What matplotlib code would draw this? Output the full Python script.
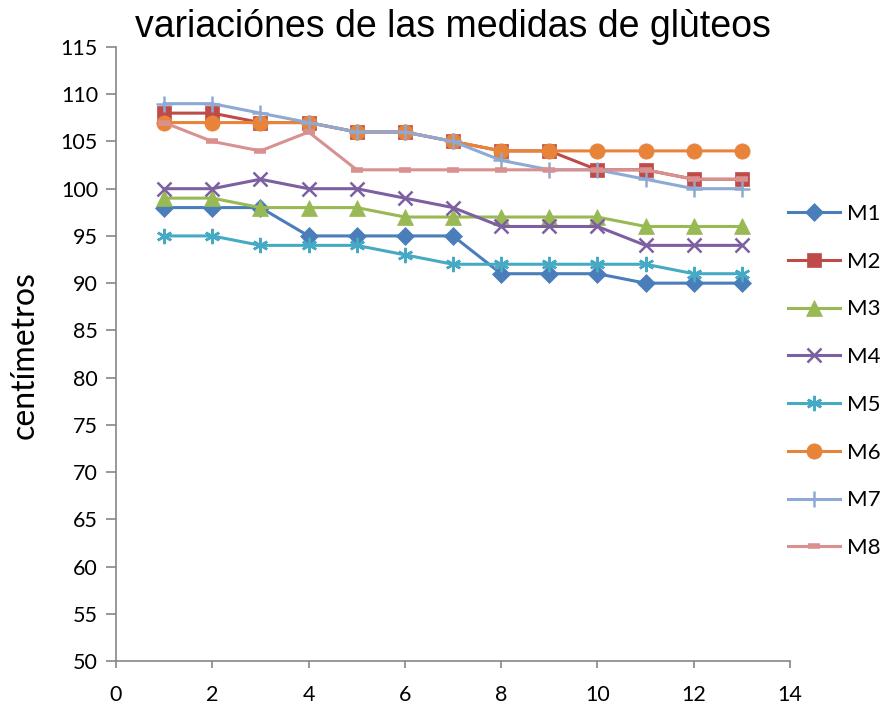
import matplotlib.pyplot as plt
import numpy as np

plt.rcParams['font.family'] = ['Lato', 'DejaVu Sans']

semanas = np.arange(1, 14)
m1 = [98, 98, 98, 95, 95, 95, 95, 91, 91, 91, 90, 90, 90]
m2 = [108, 108, 107, 107, 106, 106, 105, 104, 104, 102, 102, 101, 101]
m3 = [99, 99, 98, 98, 98, 97, 97, 97, 97, 97, 96, 96, 96]
m4 = [100, 100, 101, 100, 100, 99, 98, 96, 96, 96, 94, 94, 94]
m5 = [95, 95, 94, 94, 94, 93, 92, 92, 92, 92, 92, 91, 91]
m6 = [107, 107, 107, 107, 106, 106, 105, 104, 104, 104, 104, 104, 104]
m7 = [109, 109, 108, 107, 106, 106, 105, 103, 102, 102, 101, 100, 100]
m8 = [107, 105, 104, 106, 102, 102, 102, 102, 102, 102, 102, 101, 101]
nombres = ['M1', 'M2', 'M3', 'M4', 'M5', 'M6', 'M7', 'M8']

# color, marcador, tamaño, grosor del borde
estilos = [
    ('#4A7EBB', 'D', 9, 0.5),
    ('#BE4B48', 's', 10, 0.5),
    ('#98B954', '^', 11, 0.5),
    ('#7D60A0', 'x', 10, 1.8),
    ('#46AAC5', (6, 2, 0), 11, 1.8),
    ('#E8833A', 'o', 11, 0.5),
    ('#8EA9D3', '+', 12, 1.8),
    ('#D99190', '_', 9, 4.0),
]

fig = plt.figure(figsize=(8.89, 7.08), dpi=100)
ax = fig.add_axes([116 / 889, 47 / 708, 674 / 889, 614 / 708])

for serie, nombre, (color, mk, ms, mew) in zip([m1, m2, m3, m4, m5, m6, m7, m8], nombres, estilos):
    ax.plot(semanas, serie, color=color, lw=2.2, marker=mk, markersize=ms,
            markeredgewidth=mew, markeredgecolor=color, markerfacecolor=color,
            label=nombre)

ax.set_xlim(0, 14)
ax.set_ylim(50, 115)
ax.set_xticks(range(0, 15, 2))
ax.set_yticks(range(50, 116, 5))
ax.tick_params(labelsize=15.5, color='#868686', direction='out', width=1.2)
ax.tick_params(axis='y', length=7, pad=6)
ax.tick_params(axis='x', length=5, pad=12)
for lado in ('top', 'right'):
    ax.spines[lado].set_visible(False)
for lado in ('left', 'bottom'):
    ax.spines[lado].set_color('#868686')
    ax.spines[lado].set_linewidth(1.2)

fig.text(25 / 889, 1 - 355 / 708, 'centímetros', fontsize=23, rotation=90,
         ha='center', va='center')
fig.text(453 / 889, 1 - 27 / 708, 'variaciónes de las medidas de glùteos',
         fontsize=27, ha='center', va='center', family='Liberation Sans')

fig.legend(loc='center left', bbox_to_anchor=(788 / 889, 1 - 381 / 708),
           frameon=False, fontsize=16, labelspacing=1.25, handlelength=2.35,
           handletextpad=0.3, borderaxespad=0.0, borderpad=0.0)

fig.savefig('out.png', dpi=100)
